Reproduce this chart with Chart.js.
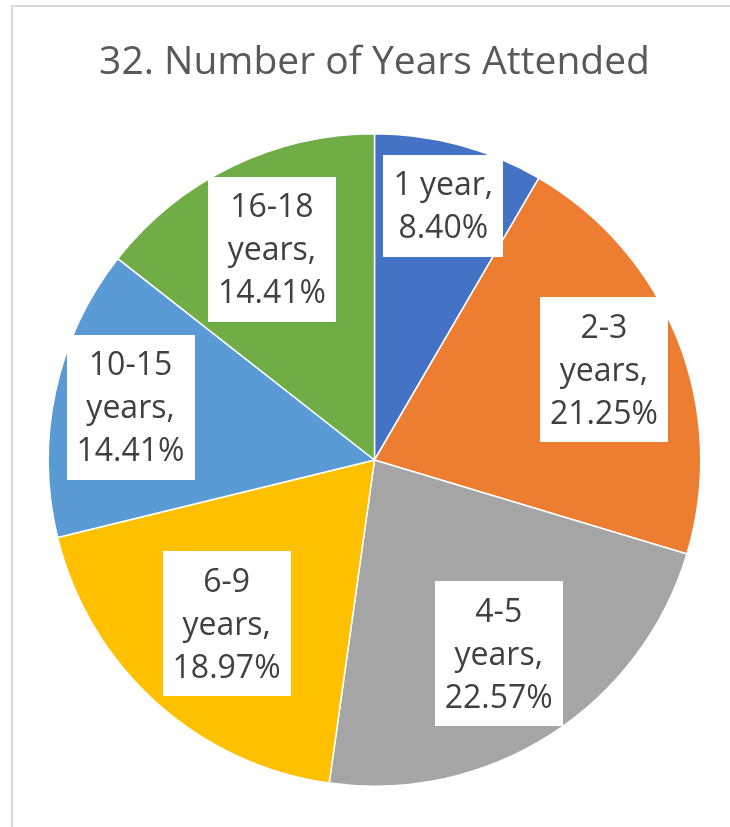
<!DOCTYPE html>
<html>
<head>
<meta charset="utf-8">
<script src="https://cdn.jsdelivr.net/npm/chart.js@4"></script>
<style>
  html, body { margin: 0; padding: 0; background: #ffffff; }
  #wrap { position: relative; width: 730px; height: 827px; overflow: hidden; }
  #frame { position: absolute; left: 11px; top: 5px; width: 740px; height: 840px;
           border-left: 2px solid #d9d9d9; border-top: 2px solid #d9d9d9; box-sizing: border-box; }
  canvas { position: absolute; left: 0; top: 0; }
</style>
</head>
<body>
<div id="wrap">
  <div id="frame"></div>
  <canvas id="c" width="730" height="827"></canvas>
</div>
<script>
const categories = ["1 year", "2-3 years", "4-5 years", "6-9 years", "10-15 years", "16-18 years"];
const percentages = [8.40, 21.25, 22.57, 18.97, 14.41, 14.41];
const sliceColors = ["#4472C4", "#ED7D31", "#A5A5A5", "#FFC000", "#5B9BD5", "#70AD47"];
const chartTitle = "32. Number of Years Attended";

const labelRadiusFractions = [0.808, 0.756, 0.706, 0.676, 0.765, 0.719];

const boxLabelPlugin = {
  id: 'boxLabels',
  afterDatasetsDraw(chart) {
    const ctx = chart.ctx;
    const meta = chart.getDatasetMeta(0);
    const fontSize = 32, lineH = 43, padX = 10, padY = 8, maxW = 120;
    ctx.save();
    ctx.font = fontSize + 'px "Open Sans"';
    meta.data.forEach((arc, i) => {
      const p = arc.getProps(['x', 'y', 'startAngle', 'endAngle', 'outerRadius'], true);
      const mid = (p.startAngle + p.endAngle) / 2;
      const r = p.outerRadius * labelRadiusFractions[i];
      const cx = p.x + Math.cos(mid) * r;
      const cy = p.y + Math.sin(mid) * r;
      const words = (categories[i] + ',').split(' ');
      const lines = [];
      let cur = '';
      words.forEach(w => {
        const t = cur ? cur + ' ' + w : w;
        if (cur && ctx.measureText(t).width > maxW) { lines.push(cur); cur = w; }
        else cur = t;
      });
      if (cur) lines.push(cur);
      lines.push(percentages[i].toFixed(2) + '%');
      const w = Math.max(...lines.map(l => ctx.measureText(l).width)) + padX * 2;
      const h = lines.length * lineH + padY * 2;
      const bx = cx - w / 2, by = cy - h / 2;
      ctx.fillStyle = '#ffffff';
      ctx.fillRect(Math.round(bx), Math.round(by), Math.round(w), Math.round(h));
      ctx.fillStyle = '#404040';
      ctx.textAlign = 'center';
      ctx.textBaseline = 'middle';
      lines.forEach((l, k) => {
        ctx.fillText(l, cx, by + padY + lineH * (k + 0.5) + 2);
      });
    });
    ctx.restore();
  }
};

new Chart(document.getElementById('c'), {
  type: 'pie',
  data: {
    labels: categories,
    datasets: [{
      data: percentages,
      backgroundColor: sliceColors,
      borderColor: '#ffffff',
      borderWidth: 1.5
    }]
  },
  options: {
    responsive: false,
    animation: false,
    events: [],
    layout: { padding: { left: 47, right: 28, top: 0, bottom: 40 } },
    plugins: {
      legend: { display: false },
      tooltip: { enabled: false },
      title: {
        display: true,
        text: chartTitle,
        color: '#595959',
        font: { family: '"Open Sans"', size: 39, weight: 'normal', lineHeight: 1.2 },
        padding: { top: 39, bottom: 47.2 }
      }
    }
  },
  plugins: [boxLabelPlugin]
});
</script>
</body>
</html>
